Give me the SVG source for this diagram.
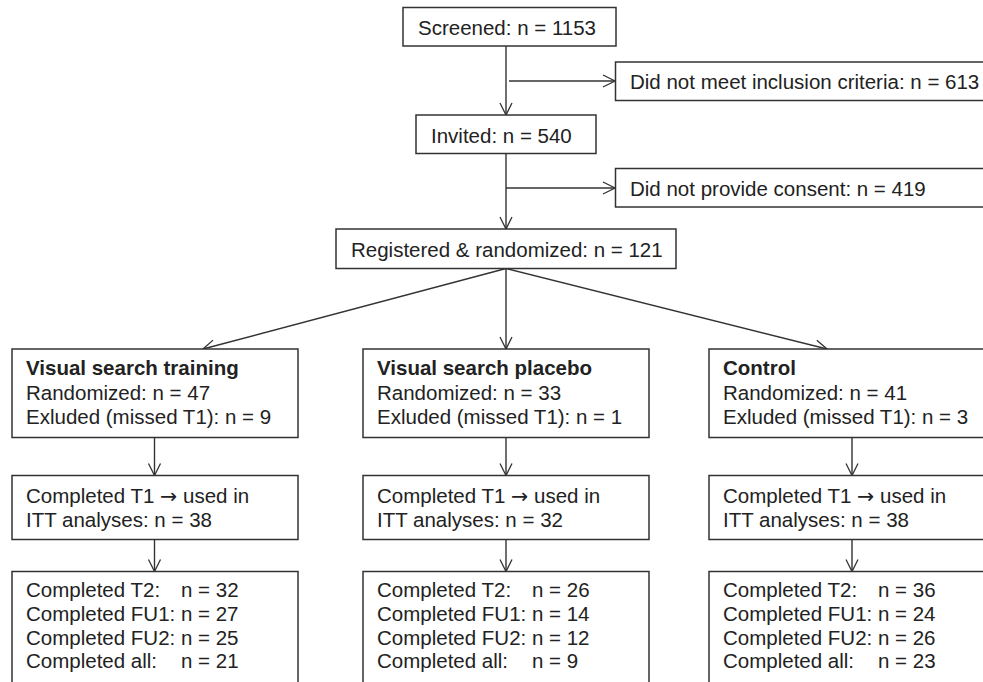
<svg xmlns="http://www.w3.org/2000/svg" width="983" height="682" viewBox="0 0 983 682">
<defs>
<marker id="arr" markerUnits="userSpaceOnUse" markerWidth="16" markerHeight="16" viewBox="-14 -8 16 16" refX="0" refY="0" orient="auto">
<path d="M-12,-6 L0,0 L-12,6" fill="none" stroke="#333" stroke-width="1.3"/>
</marker>
</defs>
<style>
rect{fill:#fff;stroke:#333;stroke-width:1.5}
text{font-family:"Liberation Sans",Arial,sans-serif;font-size:20.5px;fill:#222}
.b{font-weight:bold}
.a{font-family:"DejaVu Sans",sans-serif}
.c{fill:none;stroke:#333;stroke-width:1.4}
</style>
<rect x="0" y="0" width="983" height="682" style="fill:#fff;stroke:none"/>
<g id="connectors">
<line class="c" x1="506" y1="46" x2="506" y2="115" marker-end="url(#arr)"/>
<line class="c" x1="509" y1="81" x2="615" y2="81" marker-end="url(#arr)"/>
<line class="c" x1="506" y1="153" x2="506" y2="229" marker-end="url(#arr)"/>
<line class="c" x1="506" y1="188" x2="615" y2="188" marker-end="url(#arr)"/>
<line class="c" x1="506" y1="268.5" x2="203" y2="349" marker-end="url(#arr)"/>
<line class="c" x1="506" y1="268.5" x2="506" y2="349" marker-end="url(#arr)"/>
<line class="c" x1="506" y1="268.5" x2="827" y2="349" marker-end="url(#arr)"/>
<line class="c" x1="154.5" y1="437.5" x2="154.5" y2="475.5" marker-end="url(#arr)"/>
<line class="c" x1="506" y1="437.5" x2="506" y2="475.5" marker-end="url(#arr)"/>
<line class="c" x1="852" y1="437.5" x2="852" y2="475.5" marker-end="url(#arr)"/>
<line class="c" x1="154.5" y1="539.5" x2="154.5" y2="571.5" marker-end="url(#arr)"/>
<line class="c" x1="506" y1="539.5" x2="506" y2="571.5" marker-end="url(#arr)"/>
<line class="c" x1="852" y1="539.5" x2="852" y2="571.5" marker-end="url(#arr)"/>
</g>
<g id="screened">
<rect x="403" y="7.5" width="213" height="38.5"/>
<text x="418" y="34.5">Screened: n = 1153</text>
</g>
<g id="excluded-criteria">
<rect x="615.5" y="62" width="380" height="38.5"/>
<text x="630" y="88.5">Did not meet inclusion criteria: n = 613</text>
</g>
<g id="invited">
<rect x="416" y="115" width="180" height="38.5"/>
<text x="431" y="142.5">Invited: n = 540</text>
</g>
<g id="no-consent">
<rect x="615.5" y="168.5" width="380" height="38.5"/>
<text x="630" y="195.5">Did not provide consent: n = 419</text>
</g>
<g id="registered">
<rect x="336" y="229" width="340" height="39.5"/>
<text x="351" y="256.5">Registered &amp; randomized: n = 121</text>
</g>
<g id="training">
<rect x="12" y="349" width="286" height="88.5"/>
<text x="26" y="375" class="b">Visual search training</text>
<text x="26" y="399.5">Randomized: n = 47</text>
<text x="26" y="424">Exluded (missed T1): n = 9</text>
</g>
<g id="placebo">
<rect x="363" y="349" width="286" height="88.5"/>
<text x="377" y="375" class="b">Visual search placebo</text>
<text x="377" y="399.5">Randomized: n = 33</text>
<text x="377" y="424">Exluded (missed T1): n = 1</text>
</g>
<g id="control">
<rect x="709" y="349" width="286" height="88.5"/>
<text x="723" y="375" class="b">Control</text>
<text x="723" y="399.5">Randomized: n = 41</text>
<text x="723" y="424">Exluded (missed T1): n = 3</text>
</g>
<g id="training-t1">
<rect x="12" y="475.5" width="286" height="64"/>
<text x="26" y="503">Completed T1 <tspan class="a">→</tspan> used in</text>
<text x="26" y="527">ITT analyses: n = 38</text>
</g>
<g id="placebo-t1">
<rect x="363" y="475.5" width="286" height="64"/>
<text x="377" y="503">Completed T1 <tspan class="a">→</tspan> used in</text>
<text x="377" y="527">ITT analyses: n = 32</text>
</g>
<g id="control-t1">
<rect x="709" y="475.5" width="286" height="64"/>
<text x="723" y="503">Completed T1 <tspan class="a">→</tspan> used in</text>
<text x="723" y="527">ITT analyses: n = 38</text>
</g>
<g id="training-followup">
<rect x="12" y="571.5" width="286" height="120"/>
<text x="26" y="597">Completed T2:<tspan x="181">n = 32</tspan></text>
<text x="26" y="620.5">Completed FU1: n = 27</text>
<text x="26" y="644.5">Completed FU2: n = 25</text>
<text x="26" y="668">Completed all:<tspan x="181">n = 21</tspan></text>
</g>
<g id="placebo-followup">
<rect x="363" y="571.5" width="286" height="120"/>
<text x="377" y="597">Completed T2:<tspan x="532">n = 26</tspan></text>
<text x="377" y="620.5">Completed FU1: n = 14</text>
<text x="377" y="644.5">Completed FU2: n = 12</text>
<text x="377" y="668">Completed all:<tspan x="532">n = 9</tspan></text>
</g>
<g id="control-followup">
<rect x="709" y="571.5" width="286" height="120"/>
<text x="723" y="597">Completed T2:<tspan x="878">n = 36</tspan></text>
<text x="723" y="620.5">Completed FU1: n = 24</text>
<text x="723" y="644.5">Completed FU2: n = 26</text>
<text x="723" y="668">Completed all:<tspan x="878">n = 23</tspan></text>
</g>
</svg>
